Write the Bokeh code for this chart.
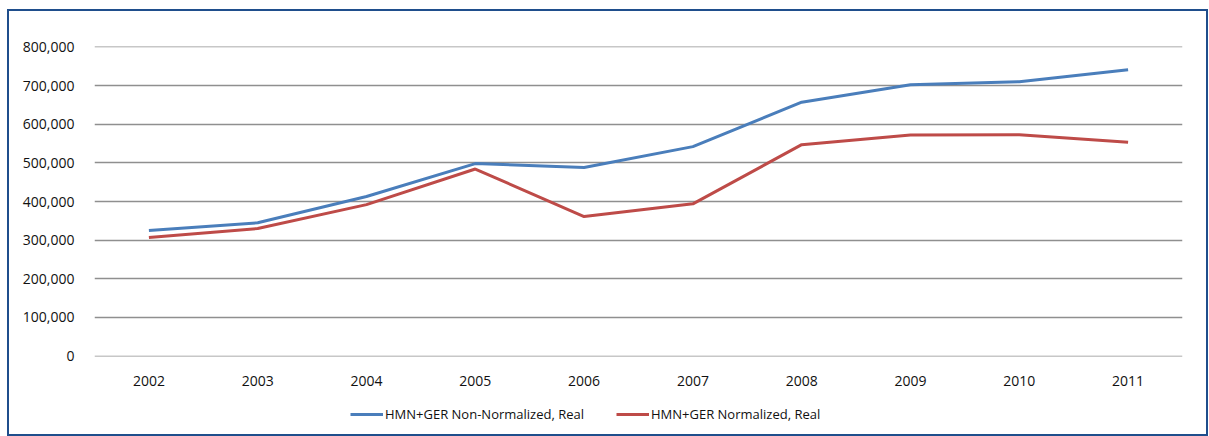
from bokeh.plotting import figure
from bokeh.models import ColumnDataSource, NumeralTickFormatter, Legend, LegendItem, FixedTicker, Range1d
from bokeh.layouts import column
from bokeh.embed import file_html
from bokeh.resources import INLINE

years = ["2002", "2003", "2004", "2005", "2006", "2007", "2008", "2009", "2010", "2011"]
non_normalized = [325000, 345000, 413000, 498000, 488000, 542000, 657000, 702000, 710000, 741000]
normalized = [307000, 330000, 392000, 484000, 361000, 394000, 547000, 572000, 573000, 553000]
series_names = ["HMN+GER Non-Normalized, Real", "HMN+GER Normalized, Real"]
y_ticks = [0, 100000, 200000, 300000, 400000, 500000, 600000, 700000, 800000]
colors = ["#4A7EBB", "#BE4B48"]

FONT = "Open Sans"
TXT = "#111111"

src = ColumnDataSource(dict(year=years, a=non_normalized, b=normalized))

p = figure(x_range=years, y_range=Range1d(-1000, 801000), width=1197, height=385,
           output_backend="svg", toolbar_location=None,
           min_border_left=85, min_border_right=24, min_border_top=35, min_border_bottom=40)
p.outline_line_color = None
p.background_fill_color = "white"
p.border_fill_color = "white"

p.line("year", "a", source=src, line_color=colors[0], line_width=3)
p.line("year", "b", source=src, line_color=colors[1], line_width=3)

p.yaxis.ticker = FixedTicker(ticks=y_ticks)
p.yaxis.formatter = NumeralTickFormatter(format="0,0")
for ax in (p.xaxis[0], p.yaxis[0]):
    ax.axis_line_color = None
    ax.major_tick_line_color = None
    ax.minor_tick_line_color = None
    ax.major_label_text_font = FONT
    ax.major_label_text_font_size = "14px"
    ax.major_label_text_color = TXT
p.yaxis.major_label_standoff = 14
p.xaxis.major_label_standoff = 13

p.xgrid.grid_line_color = None
p.ygrid.grid_line_color = "#8f8f8f"
p.ygrid.grid_line_width = 1.3

# legend strip below the chart (dummy renderers sit outside the visible range)
q = figure(x_range=Range1d(0, 1), y_range=Range1d(0, 1), width=1197, height=38,
           output_backend="svg", toolbar_location=None,
           min_border_left=0, min_border_right=0, min_border_top=0, min_border_bottom=0)
q.axis.visible = False
q.grid.grid_line_color = None
q.outline_line_color = None
q.border_fill_color = "white"
la = q.line(x=[5, 6], y=[5, 6], line_color=colors[0], line_width=3)
lb = q.line(x=[5, 6], y=[5, 6], line_color=colors[1], line_width=3)
legend = Legend(items=[LegendItem(label=series_names[0], renderers=[la]),
                       LegendItem(label=series_names[1], renderers=[lb])],
                orientation="horizontal", location=(256, 10),
                border_line_color=None, background_fill_alpha=0,
                label_text_font=FONT, label_text_font_size="13px", label_text_color=TXT,
                glyph_width=33, label_standoff=2, spacing=32, padding=0, margin=0)
q.add_layout(legend, "center")

layout = column(p, q, spacing=0)
layout.styles = {"border": "2px solid #1F4E8C", "margin-left": "7px", "margin-top": "9px"}

open("out.html", "w").write(file_html(layout, INLINE))
